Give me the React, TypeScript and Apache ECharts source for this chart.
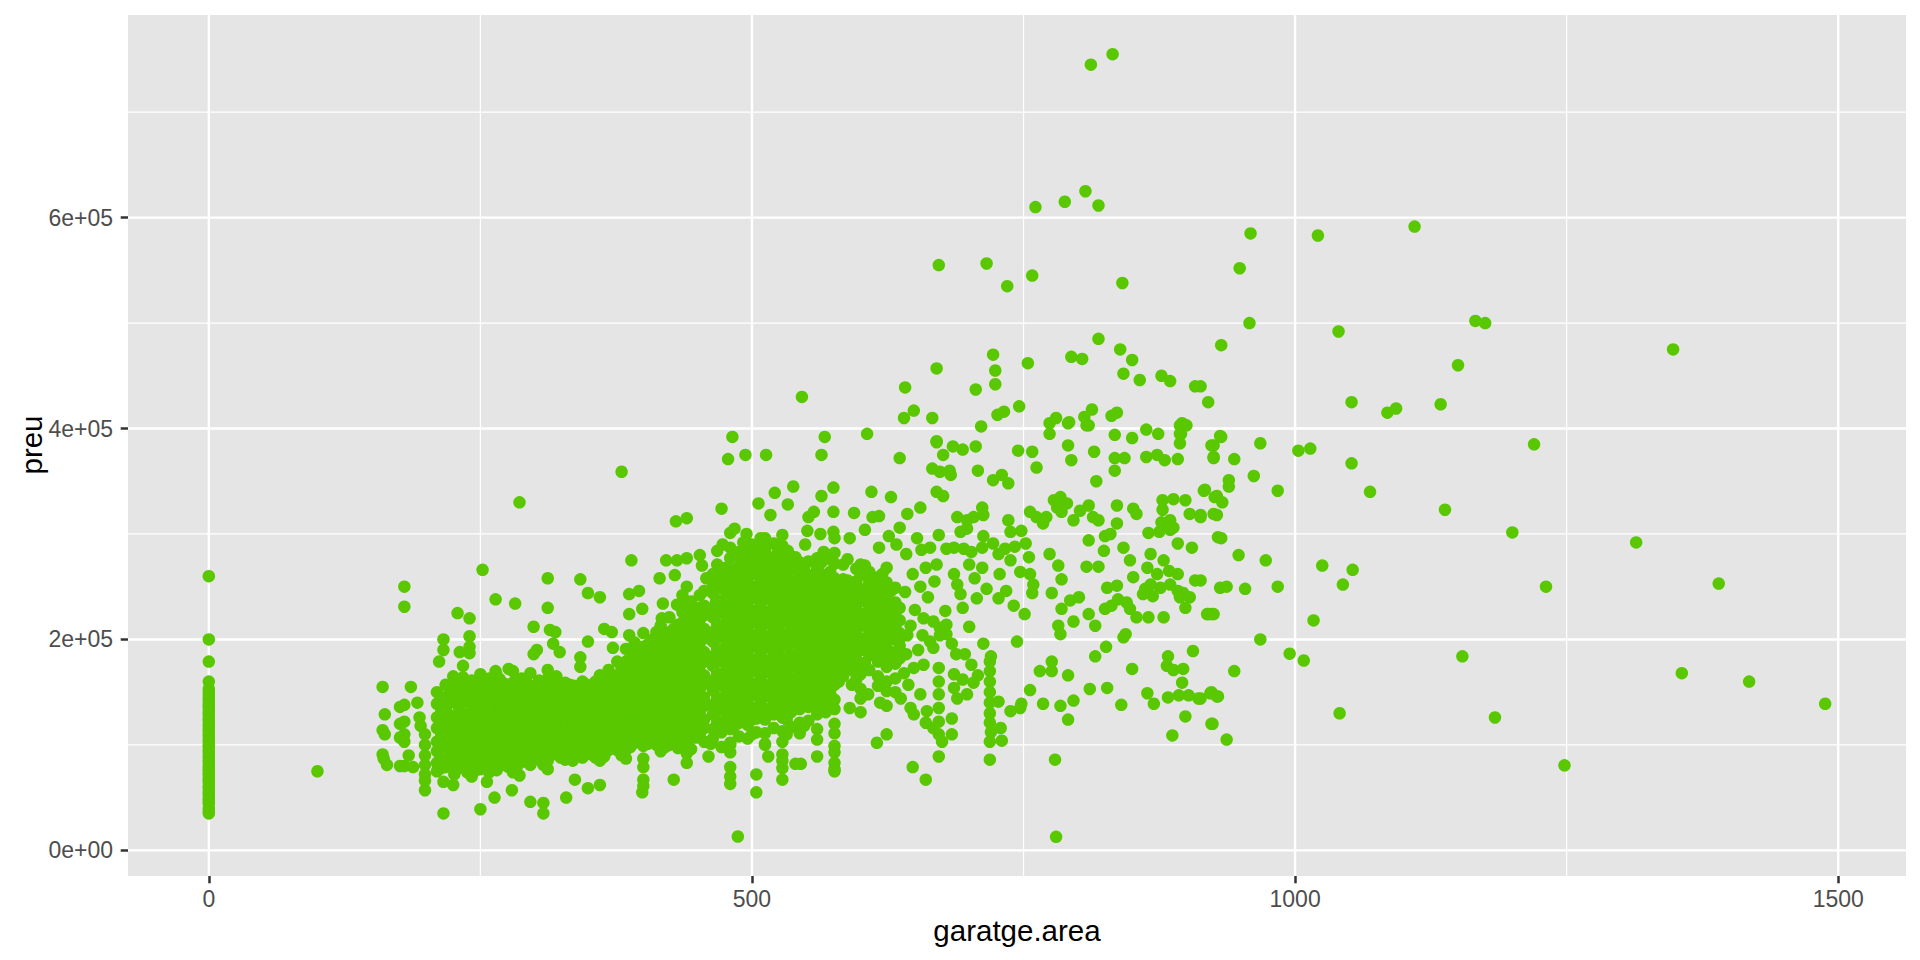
import { useEffect, useRef } from 'react';
import * as echarts from 'echarts';

// prices in thousands of dollars, garage area in sq ft

// houses without a garage (area 0)
const noGaragePrices = [
  260, 200, 179, 160, 153, 150, 147, 144, 142, 139, 137, 135, 132, 130, 128, 125, 123, 120,
  118, 115, 113, 110, 108, 105, 103, 100, 98, 95, 93, 90, 88, 85, 83, 80, 78, 76, 73, 71,
  68, 66, 64, 61, 59, 56, 54, 52, 49, 47, 44.5, 40, 37, 35,
];

const smallGarages: [number, number][] = [
  [100, 75], [160, 155], [186, 155], [180, 250], [180, 231], [162, 129], [176, 136], [180, 138],
  [176, 120], [180, 122], [160, 114], [162, 110], [180, 110], [176, 107], [180, 103], [160, 91],
  [161, 87], [164, 81], [180, 80], [184, 90], [176, 80], [194, 126], [188, 79], [199, 110],
  [199, 100], [199, 90], [199, 81], [199, 72], [199, 66], [199, 57], [195, 118], [192, 140],
];

// dense columns: [area, prices...]
const denseSingle: [number, number[]][] = [
  [210, [150, 139, 126, 116, 103, 94, 83, 75]],
  [214, [145, 132, 121, 109, 98, 88, 78]],
  [218, [157, 145, 134, 120, 111, 99, 87, 79]],
  [222, [152, 140, 128, 115, 104, 93, 82]],
  [226, [151, 142, 127, 118, 105, 96, 85, 72]],
  [230, [147, 136, 124, 113, 102, 91, 78]],
  [234, [164, 154, 144, 130, 121, 108, 100, 89, 80]],
  [238, [151, 141, 128, 118, 106, 96, 85, 74]],
  [242, [161, 148, 138, 125, 115, 102, 93, 82, 70]],
  [246, [154, 142, 130, 118, 107, 95, 86, 76]],
  [250, [167, 157, 144, 134, 120, 111, 98, 89, 77]],
  [254, [160, 149, 137, 124, 113, 101, 91, 80]],
  [258, [163, 150, 140, 127, 117, 104, 95, 84, 74]],
  [262, [158, 147, 137, 126, 114, 103, 92, 81]],
  [265, [166, 153, 143, 131, 122, 108, 98, 86, 76]],
  [268, [162, 152, 141, 130, 118, 107, 94, 84]],
  [272, [158, 148, 135, 125, 112, 103, 90, 81]],
  [276, [154, 143, 132, 121, 110, 99, 88, 79]],
  [280, [170, 159, 150, 137, 128, 115, 106, 93, 85, 74]],
  [284, [157, 146, 135, 124, 113, 101, 91, 80]],
  [288, [163, 154, 141, 132, 118, 109, 96, 88]],
  [292, [162, 150, 139, 127, 115, 104, 93, 84]],
  [296, [168, 156, 147, 134, 124, 111, 102, 89, 81]],
  [300, [154, 143, 132, 120, 109, 97, 88]],
  [304, [161, 151, 138, 129, 116, 107, 94, 86]],
  [308, [157, 145, 134, 122, 111, 100, 90, 81]],
  [312, [171, 163, 150, 141, 128, 119, 106, 97, 85, 77]],
  [316, [160, 149, 138, 126, 115, 103, 93]],
  [320, [165, 156, 143, 134, 121, 112, 99, 91]],
  [324, [151, 140, 129, 117, 107, 96, 88]],
  [328, [159, 150, 137, 128, 114, 106, 94, 86]],
  [332, [157, 146, 135, 124, 112, 101, 92]],
  [336, [156, 144, 135, 123, 114, 102, 94]],
  [340, [150, 139, 128, 118, 108, 98]],
  [344, [160, 151, 138, 129, 117, 109, 96, 88]],
  [348, [157, 146, 134, 124, 113, 103, 93]],
  [352, [153, 141, 132, 120, 112, 99, 91]],
  [356, [160, 149, 138, 127, 117, 106, 96, 88]],
  [360, [166, 154, 145, 133, 124, 112, 104, 93, 85]],
  [364, [160, 150, 140, 129, 119, 109, 99, 89]],
  [368, [171, 158, 149, 137, 128, 116, 107, 95]],
  [372, [164, 153, 142, 132, 121, 111, 100]],
  [376, [179, 166, 157, 145, 136, 124, 115, 103, 95]],
  [380, [173, 162, 151, 141, 130, 120, 110, 100, 90]],
  [384, [191, 179, 170, 157, 149, 136, 128, 116, 107, 95, 87]],
  [388, [183, 172, 161, 150, 139, 128, 118, 106, 98]],
  [392, [197, 187, 174, 165, 152, 143, 131, 123, 110, 102]],
  [396, [190, 179, 168, 157, 146, 135, 124, 114, 104]],
  [400, [206, 193, 184, 171, 162, 149, 141, 128, 120, 107, 99, 87, 79, 67, 61]],
  [404, [195, 182, 172, 160, 151, 138, 130, 118, 110, 101]],
  [408, [199, 190, 177, 168, 155, 147, 134, 126, 113, 105]],
  [412, [207, 195, 184, 173, 162, 151, 141, 130, 120, 110, 100]],
  [416, [213, 200, 191, 178, 169, 156, 148, 135, 127, 114, 106, 94]],
  [420, [204, 194, 182, 172, 160, 150, 139, 129, 118, 108, 98]],
  [424, [221, 207, 198, 185, 176, 163, 154, 142, 133, 121, 112, 100]],
  [428, [210, 201, 190, 179, 168, 158, 146, 137, 125, 116, 104]],
  [432, [214, 205, 192, 183, 170, 161, 149, 140, 128, 119, 107, 97]],
  [436, [226, 216, 204, 194, 182, 172, 160, 151, 139, 130, 118, 108, 98]],
  [440, [233, 220, 211, 198, 189, 176, 167, 154, 146, 133, 125, 112, 104, 92, 83]],
  [444, [236, 225, 214, 203, 192, 181, 171, 160, 150, 138, 128, 116, 107, 96]],
  [448, [227, 214, 205, 192, 183, 170, 161, 149, 140, 128, 119, 107]],
  [452, [242, 230, 219, 208, 197, 186, 175, 164, 153, 142, 132, 121, 110]],
  [456, [246, 232, 223, 210, 201, 188, 179, 166, 158, 145, 137, 124, 116, 103]],
];

const denseDouble: [number, number[]][] = [
  [464, [262, 253, 244, 230, 221, 207, 198, 184, 175, 161, 152, 138, 129, 115, 106]],
  [468, [271, 260, 248, 237, 225, 214, 202, 191, 179, 168, 156, 145, 133, 122]],
  [472, [259, 250, 236, 227, 213, 204, 190, 181, 167, 158, 144, 135, 121, 112, 98]],
  [476, [268, 256, 245, 233, 222, 210, 199, 187, 176, 164, 153, 141, 130, 118]],
  [480, [301, 287, 277, 263, 253, 240, 230, 217, 207, 194, 184, 171, 161, 148, 138, 125, 115, 102, 93, 79, 70]],
  [484, [280, 266, 256, 243, 233, 220, 210, 197, 187, 174, 164, 151, 141, 128, 118]],
  [488, [283, 269, 259, 246, 236, 223, 213, 200, 190, 177, 167, 154, 144, 131, 121, 108]],
  [492, [275, 262, 252, 240, 228, 217, 205, 194, 182, 171, 159, 148, 136, 125]],
  [496, [291, 281, 267, 257, 244, 234, 221, 211, 198, 188, 175, 165, 152, 142, 129, 119, 106]],
  [500, [285, 273, 262, 250, 239, 227, 216, 204, 193, 181, 170, 158, 147, 135, 124]],
  [504, [287, 273, 263, 250, 240, 227, 217, 204, 194, 181, 171, 158, 148, 135, 125, 112]],
  [508, [280, 268, 256, 245, 233, 222, 210, 199, 187, 176, 164, 153, 141, 130]],
  [512, [296, 286, 272, 262, 249, 239, 226, 216, 203, 193, 180, 170, 157, 147, 134, 124, 111, 101]],
  [516, [272, 261, 249, 238, 226, 215, 203, 192, 180, 169, 157, 146, 134]],
  [520, [291, 277, 267, 254, 244, 231, 221, 208, 198, 185, 175, 162, 152, 139, 129, 116]],
  [524, [283, 271, 259, 247, 236, 224, 213, 201, 190, 178, 167, 155, 144, 132]],
  [528, [299, 289, 275, 265, 251, 241, 228, 218, 205, 195, 182, 172, 159, 149, 136, 126, 113, 103, 91, 85]],
  [532, [262, 250, 239, 227, 216, 204, 193, 181, 170, 158, 147, 135, 124]],
  [536, [279, 269, 255, 246, 232, 223, 209, 200, 186, 177, 163, 154, 140, 131, 117]],
  [540, [278, 266, 254, 243, 231, 220, 208, 197, 185, 174, 162, 151, 139]],
  [544, [273, 259, 249, 236, 226, 213, 203, 190, 180, 167, 157, 144, 134, 121, 111]],
  [548, [268, 256, 244, 233, 221, 210, 198, 187, 175, 164, 152, 141]],
  [552, [274, 261, 251, 238, 228, 215, 205, 192, 182, 169, 159, 146, 136, 123]],
  [556, [260, 248, 236, 225, 213, 202, 190, 179, 167, 156, 144]],
  [560, [277, 267, 253, 244, 230, 221, 207, 198, 184, 175, 161, 152, 138, 129, 115, 105]],
  [564, [273, 262, 250, 238, 227, 215, 204, 192, 181, 169, 158, 146]],
  [568, [256, 246, 233, 223, 210, 200, 187, 177, 164, 154, 141, 131]],
  [572, [276, 264, 253, 241, 230, 218, 207, 195, 184, 172, 161, 149]],
  [576, [296, 282, 272, 258, 249, 235, 226, 212, 203, 189, 180, 166, 157, 143, 134, 120, 111, 99, 93, 83, 77]],
  [580, [252, 241, 229, 218, 206, 195, 183, 172, 160]],
  [584, [271, 257, 248, 234, 225, 211, 202, 188, 179, 165]],
  [588, [256, 244, 232, 221, 209, 198, 186, 175]],
  [592, [249, 240, 226, 217, 203, 194, 180, 171, 157]],
  [596, [267, 255, 243, 232, 220, 209, 197, 186, 174, 162]],
  [600, [271, 261, 247, 237, 224, 214, 201, 191, 177, 167, 153, 144, 131]],
  [604, [248, 236, 224, 213, 201, 190, 178]],
  [608, [264, 254, 240, 231, 217, 208, 194, 185, 171]],
  [612, [244, 232, 221, 209, 198, 186]],
  [616, [259, 249, 235, 226, 212, 202, 189, 179, 165, 156]],
  [620, [240, 228, 217, 205, 194, 182]],
  [624, [268, 254, 244, 230, 221, 207, 197, 184, 174, 160, 151, 137]],
  [628, [246, 234, 222, 211, 200, 188]],
  [632, [249, 235, 225, 211, 201, 187, 177, 163]],
  [636, [230, 218, 206, 194, 182]],
];

const lowerScatter: [number, number][] = [
  [216, 200], [240, 203], [216, 190], [240, 193], [212, 179], [231, 188], [240, 187], [234, 175],
  [229, 225], [240, 220], [225, 165], [228, 161], [252, 266], [264, 238], [282, 234], [264, 170],
  [276, 172], [299, 212], [314, 209], [319, 207], [302, 190], [299, 186], [317, 196], [323, 188],
  [312, 258], [312, 230], [342, 257], [349, 244], [360, 240], [349, 198], [364, 210], [371, 207],
  [372, 192], [342, 183], [342, 174], [216, 35], [216, 65], [225, 62], [263, 50], [279, 57],
  [296, 46], [250, 39], [256, 65], [286, 71], [308, 45], [308, 35], [329, 50], [337, 67],
  [349, 59], [360, 62], [399, 55], [428, 67], [335, 85], [389, 275], [387, 243], [396, 246],
  [387, 224], [399, 229], [387, 204], [415, 258], [429, 261], [418, 234], [440, 250], [436, 242],
  [417, 220], [420, 204], [409, 200], [421, 275], [431, 275], [440, 277], [452, 280], [454, 270],
  [431, 233], [458, 258], [470, 268], [483, 281], [498, 268], [513, 281], [526, 274], [538, 268],
  [513, 252], [529, 246], [467, 236], [489, 230], [538, 236], [480, 63], [504, 72], [504, 55],
  [528, 67], [540, 82], [545, 82], [560, 89], [576, 75], [615, 102], [624, 110], [460, 89],
  [462, 101], [480, 100], [515, 89], [528, 78], [512, 100], [487, 13.1], [780, 12.8],
  [468, 284], [492, 292], [508, 296], [533, 284], [549, 290], [566, 283], [588, 276], [604, 270],
  [620, 262], [590, 135], [607, 148], [618, 140], [632, 150], [548, 118], [532, 110], [500, 110],
];

const upperScatter: [number, number][] = [
  [482, 392], [478, 371], [494, 375], [513, 375], [380, 359], [286, 330], [538, 345], [521, 339],
  [506, 329], [533, 328], [517, 318], [472, 324], [430, 312], [440, 315], [484, 305], [495, 300],
  [473, 290], [500, 290], [499, 278], [546, 430], [567, 392], [606, 395], [564, 375], [636, 372],
  [670, 387], [676, 375], [685, 383], [694, 380], [706, 383], [666, 362], [673, 359], [682, 360],
  [683, 356], [708, 360], [711, 402], [670, 340], [676, 336], [722, 351], [730, 356], [736, 348],
  [745, 379], [758, 378], [762, 363], [774, 395], [791, 405], [808, 403], [791, 384], [794, 370],
  [815, 378], [817, 350], [834, 394], [850, 391], [863, 399], [874, 395], [834, 372], [843, 372],
  [834, 360], [863, 373], [873, 375], [880, 370], [892, 371], [894, 403], [894, 395], [894, 386],
  [923, 384], [925, 373], [636, 306], [643, 319], [655, 325], [610, 340], [628, 335], [594, 320],
  [611, 316], [617, 317], [552, 316], [557, 321], [575, 321], [564, 336], [575, 344], [551, 303],
  [563, 300], [575, 302], [617, 287], [642, 281], [656, 285], [664, 287], [672, 299], [670, 271],
  [679, 286], [689, 316], [698, 313], [704, 316], [712, 325], [713, 318], [692, 302], [698, 305],
  [686, 287], [695, 286], [700, 271], [702, 283], [713, 298], [712, 287], [722, 291], [727, 281],
  [733, 286], [738, 275], [742, 288], [748, 303], [752, 291], [755, 278], [747, 264], [756, 262],
  [759, 252], [758, 244], [736, 313], [738, 302], [756, 321], [762, 316], [768, 310], [771, 316],
  [781, 325], [778, 332], [784, 335], [790, 329], [796, 313], [785, 321], [774, 281], [782, 270],
  [785, 257], [776, 244], [802, 322], [810, 327], [814, 316], [819, 313], [810, 294], [808, 269],
  [819, 269], [825, 298], [824, 284], [830, 300], [836, 310], [842, 287], [848, 275], [851, 259],
  [836, 327], [851, 324], [854, 319], [865, 301], [875, 302], [885, 304], [892, 291], [867, 281],
  [879, 275], [864, 268], [873, 262], [884, 265], [892, 262], [867, 252], [876, 249], [885, 252],
  [892, 246], [869, 241], [905, 287], [908, 256], [897, 244], [903, 240], [878, 332], [888, 333],
  [899, 332], [878, 323], [885, 313], [888, 306], [877, 311], [903, 319], [913, 318], [916, 341],
  [926, 335], [925, 319], [929, 297], [648, 262], [655, 250], [662, 240], [650, 228], [641, 245],
  [660, 268], [668, 255], [694, 230], [700, 212], [705, 258], [712, 268], [716, 248], [728, 262],
  [734, 246], [741, 232], [652, 296], [626, 298], [633, 290], [604, 304], [590, 296],
];

const midScatter: [number, number][] = [
  [785, 229], [793, 237], [801, 240], [810, 224], [816, 213], [796, 217], [782, 213], [784, 205],
  [825, 229], [831, 232], [837, 238], [845, 235], [848, 229], [827, 249], [836, 251], [854, 221],
  [865, 221], [879, 221], [860, 243], [862, 248], [844, 205], [842, 202], [899, 230], [894, 240],
  [896, 244], [919, 224], [923, 224], [931, 249], [816, 184], [826, 193], [850, 172], [883, 184],
  [882, 175], [888, 171], [897, 172], [906, 189], [896, 159], [811, 153], [827, 154], [864, 149],
  [870, 139], [883, 145], [893, 147], [902, 147], [911, 144], [922, 149], [929, 146], [899, 127],
  [923, 120], [887, 109], [840, 138], [765, 170], [776, 179], [776, 170], [791, 166], [768, 139],
  [784, 137], [791, 124], [796, 142], [748, 139], [756, 152], [738, 132], [747, 135], [779, 86],
  [719, 170], [719, 160], [719, 150], [719, 140], [719, 130], [719, 121], [720, 112], [719, 103],
  [719, 86], [730, 104], [729, 116], [727, 141], [672, 173], [672, 160], [672, 148], [672, 135],
  [672, 122], [672, 110], [672, 89], [686, 167], [686, 154], [684, 125], [684, 110], [675, 103],
  [648, 79], [660, 67], [689, 144], [698, 148], [704, 159], [688, 186], [713, 196], [720, 184],
  [719, 179], [744, 198], [751, 224], [727, 239], [707, 239], [689, 252], [686, 262], [678, 227],
  [692, 243], [679, 205], [673, 211], [667, 217], [649, 173], [658, 176], [644, 157], [655, 148],
  [637, 144], [646, 135], [649, 129], [661, 132], [660, 121], [667, 116], [636, 201], [643, 204],
  [657, 204], [664, 198], [673, 204], [679, 214], [667, 192], [642, 186], [653, 190], [646, 213],
  [658, 220], [684, 196], [696, 186], [702, 176], [708, 166], [694, 162], [640, 168],
];

const topScatter: [number, number][] = [
  [812, 745], [832, 755], [761, 610], [788, 615], [807, 625], [819, 611.5], [672, 555], [716, 556.5],
  [735, 535], [758, 545], [841, 538], [819, 485], [839, 475], [850, 465], [794, 468], [804, 466],
  [722, 470], [724, 455], [724, 442], [670, 457], [754, 462], [842, 452], [857, 446], [877, 450],
  [885, 445], [908, 440], [641, 439], [649, 417], [640, 410], [666, 410], [706, 437], [726, 413],
  [732, 416], [746, 421], [774, 405], [780, 410], [792, 406], [806, 411], [813, 418], [810, 403],
  [831, 412], [836, 415], [896, 405], [900, 403], [895, 395], [931, 393], [670, 388],
];

const largeGarages: [number, number][] = [
  [959, 585], [1021, 583], [1110, 591.5], [949, 552], [958, 500], [1040, 492], [1166, 502],
  [1175, 500], [932, 479], [1348, 475], [1150, 460], [913, 440], [920, 425], [1052, 425],
  [1085, 415], [1093, 419], [1134, 423], [932, 392], [925, 384], [925, 372], [944, 371],
  [968, 386], [1003, 379], [1014, 381], [1052, 367], [1220, 385], [962, 355], [939, 351],
  [939, 345], [917, 342], [928, 336], [933, 330], [984, 341], [1069, 340], [1138, 323],
  [913, 316], [928, 318], [1200, 301.5], [1314, 292], [932, 296], [948, 280], [973, 275],
  [1025, 270], [1053, 266], [937, 250], [954, 248], [984, 250], [1044, 252], [1231, 250],
  [1390, 253], [913, 256], [920, 224], [925, 224], [1017, 218], [968, 200], [995, 186.5],
  [1008, 180], [1154, 184], [944, 170], [1356, 168], [1418, 160], [1488, 139], [913, 144],
  [923, 150], [928, 146], [1041, 130], [1184, 126], [924, 120], [937, 105], [1248, 80.6],
];

const xTicks = [0, 500, 1000, 1500];
const xMinorTicks = [250, 750, 1250];
const yTicks = [0, 200000, 400000, 600000];
const yTickLabels = ['0e+00', '2e+05', '4e+05', '6e+05'];
const yMinorTicks = [100000, 300000, 500000, 700000];

const X_MIN = -74.4;
const X_MAX = 1562.4;
const Y_MIN = -24321.55;
const Y_MAX = 792110.55;

const toPoints = (rows: [number, number][]) => rows.map(([x, y]) => [x, y * 1000]);

export default function App() {
  const chartRef = useRef<HTMLDivElement>(null);

  useEffect(() => {
    document.body.style.margin = '0';
    if (!chartRef.current) return;
    const chart = echarts.init(chartRef.current, null, { renderer: 'svg' });

    const points = [
      ...noGaragePrices.map((p) => [0, p * 1000]),
      ...toPoints(smallGarages),
      ...denseSingle.flatMap(([x, ys]) => ys.map((y) => [x, y * 1000])),
      ...denseDouble.flatMap(([x, ys]) => ys.map((y) => [x, y * 1000])),
      ...toPoints(lowerScatter),
      ...toPoints(upperScatter),
      ...toPoints(midScatter),
      ...toPoints(topScatter),
      ...toPoints(largeGarages),
    ];

    const gridLine = (data: number[][], width: number) => ({
      type: 'line' as const,
      data,
      symbol: 'none',
      silent: true,
      z: 1,
      lineStyle: { color: '#FFFFFF', width },
    });

    const gridSeries = [
      ...xMinorTicks.map((v) => gridLine([[v, Y_MIN], [v, Y_MAX]], 1.2)),
      ...yMinorTicks.map((v) => gridLine([[X_MIN, v], [X_MAX, v]], 1.2)),
      ...xTicks.map((v) => gridLine([[v, Y_MIN], [v, Y_MAX]], 2.4)),
      ...yTicks.map((v) => gridLine([[X_MIN, v], [X_MAX, v]], 2.4)),
    ];

    const option: echarts.EChartsOption = {
      animation: false,
      textStyle: { fontFamily: 'Liberation Sans, Arial, sans-serif' },
      grid: {
        left: 128,
        right: 14,
        top: 15,
        bottom: 84,
        show: true,
        backgroundColor: '#E5E5E5',
        borderWidth: 0,
      },
      xAxis: {
        type: 'value',
        min: X_MIN,
        max: X_MAX,
        position: 'bottom',
        axisLine: { show: false, onZero: false },
        splitLine: { show: false },
        axisTick: {
          show: true,
          customValues: xTicks,
          length: 7.3,
          lineStyle: { color: '#333333', width: 2.5 },
        },
        axisLabel: {
          customValues: xTicks,
          color: '#4D4D4D',
          fontSize: 23,
          margin: 11,
          formatter: (v: number) => String(v),
        },
      } as any,
      yAxis: {
        type: 'value',
        min: Y_MIN,
        max: Y_MAX,
        position: 'left',
        axisLine: { show: false, onZero: false },
        splitLine: { show: false },
        axisTick: {
          show: true,
          customValues: yTicks,
          length: 7.3,
          lineStyle: { color: '#333333', width: 2.5 },
        },
        axisLabel: {
          customValues: yTicks,
          color: '#4D4D4D',
          fontSize: 23,
          margin: 15,
          formatter: (v: number) => yTickLabels[yTicks.indexOf(v)] ?? '',
        },
      } as any,
      graphic: [
        {
          type: 'text',
          x: 1017,
          y: 930,
          style: {
            text: 'garatge.area',
            fontSize: 29.5,
            fill: '#000000',
            align: 'center',
            verticalAlign: 'middle',
            fontFamily: 'Liberation Sans, Arial, sans-serif',
          },
        },
        {
          type: 'text',
          x: 31,
          y: 445,
          rotation: Math.PI / 2,
          style: {
            text: 'preu',
            fontSize: 29.5,
            fill: '#000000',
            align: 'center',
            verticalAlign: 'middle',
            fontFamily: 'Liberation Sans, Arial, sans-serif',
          },
        },
      ],
      series: [
        ...gridSeries,
        {
          type: 'scatter',
          data: points,
          symbolSize: 12.5,
          z: 2,
          itemStyle: { color: '#59C800', opacity: 1 },
        },
      ] as any,
    };

    chart.setOption(option);

    return () => {
      chart.dispose();
    };
  }, []);

  return <div ref={chartRef} style={{ width: '1920px', height: '960px' }} />;
}
